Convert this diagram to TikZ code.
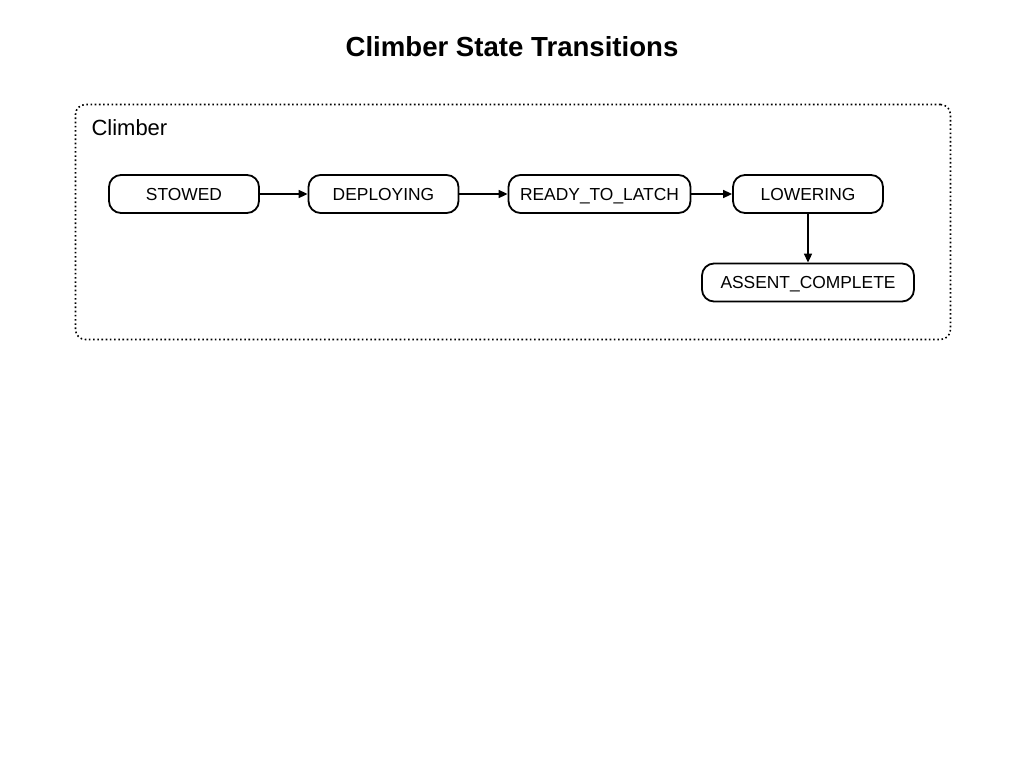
\documentclass[tikz,border=0pt]{standalone}
\usepackage{fontspec}
\setmainfont{Liberation Sans}
\usetikzlibrary{arrows.meta}
\tikzset{>={Triangle[length=9pt,width=8pt]},
  state/.style={draw,line width=1.8pt,rounded corners=12pt,minimum height=38pt,inner sep=0pt,text height=12.5pt,text depth=0pt,font=\fontsize{17.4}{20}\selectfont},
  trans/.style={line width=1.6pt,->},
  group/.style={draw,line width=1.6pt,dash pattern=on 1.6pt off 2.6pt,rounded corners=10pt}}

\begin{document}
\begin{tikzpicture}[x=1pt,y=-1pt]
\useasboundingbox (0,0) rectangle (1024,768);
\node[font=\bfseries\fontsize{27.6}{32}\selectfont] (title) at (512,47){Climber State Transitions};
\node[group,minimum width=875pt,minimum height=235pt] (climber) at (513,222){};
\node[anchor=west,font=\fontsize{22}{26}\selectfont] (climberlbl) at (88,128){Climber};
% states
\node[state,minimum width=150pt] (stowed) at (184,194){STOWED};
\node[state,minimum width=150pt] (deploying) at (383.5,194){DEPLOYING};
\node[state,minimum width=182pt] (ready) at (599.5,194){READY\_TO\_LATCH};
\node[state,minimum width=150pt] (lowering) at (808,194){LOWERING};
\node[state,minimum width=212pt] (assent) at (808,282.5){ASSENT\_COMPLETE};
% transitions
\draw[trans] (stowed) -- (deploying);\draw[trans] (deploying) -- (ready);\draw[trans] (ready) -- (lowering);
\draw[trans] (lowering) -- (assent);
\end{tikzpicture}
\end{document}
